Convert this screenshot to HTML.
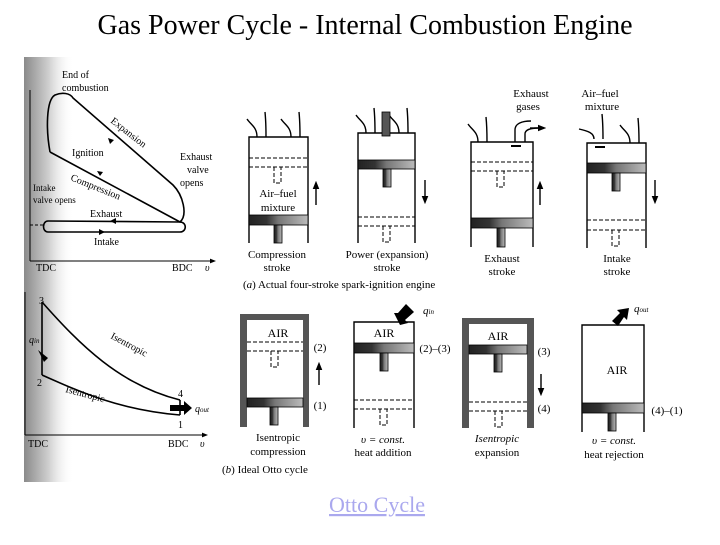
<!DOCTYPE html>
<html><head><meta charset="utf-8"><style>
html,body{margin:0;padding:0;background:#fff}
body{width:720px;height:540px;overflow:hidden;position:relative;font-family:"Liberation Serif",serif}
</style></head><body>
<svg width="720" height="540" viewBox="0 0 720 540" xmlns="http://www.w3.org/2000/svg" font-family="Liberation Serif, serif">
<defs>
<linearGradient id="lg" x1="0" x2="1" y1="0" y2="0">
<stop offset="0" stop-color="#8a8a8a"/><stop offset="0.5" stop-color="#d0d0d0"/><stop offset="1" stop-color="#ffffff" stop-opacity="0"/>
</linearGradient>
<linearGradient id="pg" x1="0" x2="1" y1="0" y2="0">
<stop offset="0" stop-color="#222"/><stop offset="0.3" stop-color="#333"/><stop offset="0.5" stop-color="#777"/><stop offset="1" stop-color="#bbb"/>
</linearGradient>
<marker id="ah" viewBox="0 0 10 10" refX="5" refY="5" markerWidth="6" markerHeight="6" orient="auto"><path d="M0,1 L10,5 L0,9z" fill="#000"/></marker>
</defs>
<text x="365" y="34" font-size="28" text-anchor="middle">Gas Power Cycle - Internal Combustion Engine</text>
<rect x="24" y="57" width="50" height="425" fill="url(#lg)"/>
<g stroke="#000" fill="none" stroke-width="1.6">
<line x1="30" y1="90" x2="30" y2="261" stroke-width="1"/>
<line x1="30" y1="261" x2="213" y2="261" stroke-width="1" marker-end="url(#ah)"/>
<path d="M50,152 C46,130 46,100 55,95 C62,92 70,93 73,98 L173,185 C183,195 188,215 180,222 L50,152"/>
<path d="M180,222 L48,221 C42,221 42,232 48,232 L180,232 C187,232 187,222 180,222"/>
<line x1="30" y1="225" x2="44" y2="225" stroke-dasharray="3,2" stroke-width="1"/>
<line x1="25" y1="292" x2="25" y2="435" stroke-width="1"/>
<line x1="25" y1="435" x2="205" y2="435" stroke-width="1" marker-end="url(#ah)"/>
<line x1="42" y1="302" x2="42" y2="375"/>
<path d="M42,302 C80,345 120,385 180,400"/>
<path d="M42,375 C80,392 120,410 180,415"/>
<line x1="180" y1="400" x2="180" y2="415"/>
</g>
<g fill="#000">
<path d="M108,138 l6,2 -4,4z"/><path d="M110,221 l6,-3 0,6z"/><path d="M105,232 l-6,-3 0,6z"/><path d="M103,172 l-6,-1 3,5z"/>
<path d="M38,350 l10,8 -4,4 z"/><path d="M170,405 h14 v-4 l8,7 -8,7 v-4 h-14z"/>
</g>
<g font-size="10">
<text x="62" y="78">End of</text><text x="62" y="91">combustion</text>
<text x="72" y="156">Ignition</text>
<text x="110" y="122" transform="rotate(38 110 122)">Expansion</text>
<text x="180" y="160">Exhaust</text><text x="187" y="173">valve</text><text x="180" y="186">opens</text>
<text x="70" y="180" transform="rotate(22 70 180)">Compression</text>
<text x="33" y="191" font-size="9">Intake</text><text x="33" y="203" font-size="9">valve opens</text>
<text x="90" y="217">Exhaust</text><text x="94" y="245">Intake</text>
<text x="36" y="271">TDC</text><text x="172" y="271">BDC</text><text x="205" y="271" font-style="italic">υ</text>
<text x="39" y="304">3</text><text x="37" y="386">2</text><text x="178" y="397">4</text><text x="178" y="428">1</text>
<text x="29" y="343" font-style="italic">q<tspan font-size="7">in</tspan></text>
<text x="195" y="412" font-style="italic">q<tspan font-size="7">out</tspan></text>
<text x="110" y="338" transform="rotate(28 110 338)">Isentropic</text>
<text x="65" y="392" transform="rotate(15 65 392)">Isentropic</text>
<text x="28" y="447">TDC</text><text x="168" y="447">BDC</text><text x="200" y="447" font-style="italic">υ</text>
</g>
<g stroke="#000" fill="none" stroke-width="1.4">
<path d="M249,243 V137 H308 V243"/><path d="M358,243 V133 H415 V243"/><path d="M471,247 V142 H533 V247"/><path d="M587,248 V143 H646 V248"/>
<g stroke-dasharray="4,2" stroke-width="1">
<line x1="249" y1="158" x2="308" y2="158"/><line x1="249" y1="167" x2="308" y2="167"/><path d="M274,167 v16 h7 v-16"/>
<line x1="358" y1="217" x2="415" y2="217"/><line x1="358" y1="226" x2="415" y2="226"/><path d="M383,226 v16 h7 v-16"/>
<line x1="471" y1="162" x2="533" y2="162"/><line x1="471" y1="171" x2="533" y2="171"/><path d="M497,171 v16 h7 v-16"/>
<line x1="587" y1="220" x2="646" y2="220"/><line x1="587" y1="230" x2="646" y2="230"/><path d="M612,230 v16 h7 v-16"/>
</g>
<path d="M257,137 c0,-10 -6,-12 -10,-18 M266,137 c0,-10 0,-15 -1,-25 M291,137 c0,-10 -6,-12 -10,-18 M300,137 c0,-10 0,-15 -1,-25"/>
<path d="M366,133 c0,-10 -6,-12 -10,-18 M375,133 c0,-10 0,-15 -1,-25 M399,133 c0,-10 -6,-12 -10,-18 M408,133 c0,-10 0,-15 -1,-25"/>
<path d="M478,142 c0,-10 -6,-12 -10,-18 M487,142 c0,-10 0,-15 -1,-25 M515,142 v-12 c0,-6 6,-9 16,-9 M525,142 v-8 c0,-4 5,-6 14,-6"/>
<path d="M594,139 c0,-6 -6,-8 -15,-10 M603,139 c0,-10 0,-15 -1,-25 M630,143 c0,-10 -6,-12 -10,-18 M639,143 c0,-10 0,-15 -1,-25"/>
<line x1="511" y1="146" x2="521" y2="146" stroke-width="2"/><line x1="595" y1="147" x2="605" y2="147" stroke-width="2"/>
<line x1="316" y1="205" x2="316" y2="185" marker-end="url(#ah)"/>
<line x1="425" y1="180" x2="425" y2="200" marker-end="url(#ah)"/>
<line x1="540" y1="205" x2="540" y2="185" marker-end="url(#ah)"/>
<line x1="655" y1="180" x2="655" y2="200" marker-end="url(#ah)"/>
<line x1="530" y1="128" x2="542" y2="128" marker-end="url(#ah)"/>
</g>
<g fill="url(#pg)" stroke="#000" stroke-width="0.8">
<rect x="249" y="215" width="59" height="10"/><rect x="274" y="225" width="8" height="18"/>
<rect x="358" y="160" width="57" height="9"/><rect x="383" y="169" width="8" height="18"/>
<rect x="471" y="218" width="62" height="10"/><rect x="497" y="228" width="8" height="19"/>
<rect x="587" y="163" width="59" height="10"/><rect x="612" y="173" width="8" height="18"/>
<rect x="382" y="112" width="8" height="24" fill="#555"/>
</g>
<g font-size="11" text-anchor="middle">
<text x="278" y="197">Air–fuel</text><text x="278" y="211">mixture</text>
<text x="277" y="258">Compression</text><text x="277" y="271">stroke</text>
<text x="387" y="258">Power (expansion)</text><text x="387" y="271">stroke</text>
<text x="502" y="262">Exhaust</text><text x="502" y="275">stroke</text>
<text x="617" y="262">Intake</text><text x="617" y="275">stroke</text>
<text x="531" y="97">Exhaust</text><text x="528" y="110">gases</text>
<text x="600" y="97">Air–fuel</text><text x="602" y="110">mixture</text>
<text x="243" y="288" text-anchor="start">(<tspan font-style="italic">a</tspan>) Actual four-stroke spark-ignition engine</text>
</g>
<g fill="#555">
<path d="M240,427 V314 H309 V427 H303 V320 H247 V427z"/>
<path d="M462,428 V318 H534 V428 H527 V324 H469 V428z"/>
</g>
<g stroke="#000" fill="none" stroke-width="1.4">
<path d="M354,428 V322 H414 V428"/><path d="M582,432 V325 H644 V432"/>
<g stroke-dasharray="4,2" stroke-width="1">
<line x1="247" y1="342" x2="303" y2="342"/><line x1="247" y1="351" x2="303" y2="351"/><path d="M271,351 v16 h7 v-16"/>
<line x1="354" y1="400" x2="414" y2="400"/><line x1="354" y1="409" x2="414" y2="409"/><path d="M380,409 v16 h7 v-16"/>
<line x1="469" y1="402" x2="527" y2="402"/><line x1="469" y1="411" x2="527" y2="411"/><path d="M495,411 v16 h7 v-16"/>
</g>
<line x1="319" y1="385" x2="319" y2="366" marker-end="url(#ah)"/>
<line x1="541" y1="374" x2="541" y2="392" marker-end="url(#ah)"/>
</g>
<g fill="url(#pg)" stroke="#000" stroke-width="0.8">
<rect x="247" y="398" width="56" height="9"/><rect x="270" y="407" width="8" height="18"/>
<rect x="354" y="343" width="60" height="10"/><rect x="380" y="353" width="8" height="18"/>
<rect x="469" y="345" width="58" height="9"/><rect x="494" y="354" width="8" height="18"/>
<rect x="582" y="403" width="62" height="10"/><rect x="608" y="413" width="8" height="18"/>
</g>
<g fill="#000"><path d="M400,325 l-6,-12 4,0 8,-9 8,8 -9,8 3,3z"/><path d="M618,326 l-6,-5 8,-8 -3,-3 12,-2 -2,12 -3,-3z"/></g>
<g font-size="11" text-anchor="middle">
<text x="278" y="337" font-size="12">AIR</text><text x="384" y="337" font-size="12">AIR</text><text x="498" y="340" font-size="12">AIR</text><text x="617" y="374" font-size="12">AIR</text>
<text x="320" y="351">(2)</text><text x="320" y="409">(1)</text><text x="435" y="352">(2)–(3)</text>
<text x="544" y="355">(3)</text><text x="544" y="412">(4)</text><text x="667" y="414">(4)–(1)</text>
<text x="423" y="314" font-style="italic" text-anchor="start">q<tspan font-size="7">in</tspan></text>
<text x="634" y="312" font-style="italic" text-anchor="start">q<tspan font-size="7">out</tspan></text>
<text x="278" y="441">Isentropic</text><text x="278" y="455">compression</text>
<text x="383" y="443" font-style="italic">υ = const.</text><text x="383" y="456">heat addition</text>
<text x="497" y="442" font-style="italic">Isentropic</text><text x="497" y="456">expansion</text>
<text x="614" y="444" font-style="italic">υ = const.</text><text x="614" y="458">heat rejection</text>
<text x="222" y="473" text-anchor="start">(<tspan font-style="italic">b</tspan>) Ideal Otto cycle</text>
</g>
<text x="377" y="512" font-size="22" text-anchor="middle" fill="#aaa8ee" text-decoration="underline">Otto Cycle</text>
</svg>
</body></html>
